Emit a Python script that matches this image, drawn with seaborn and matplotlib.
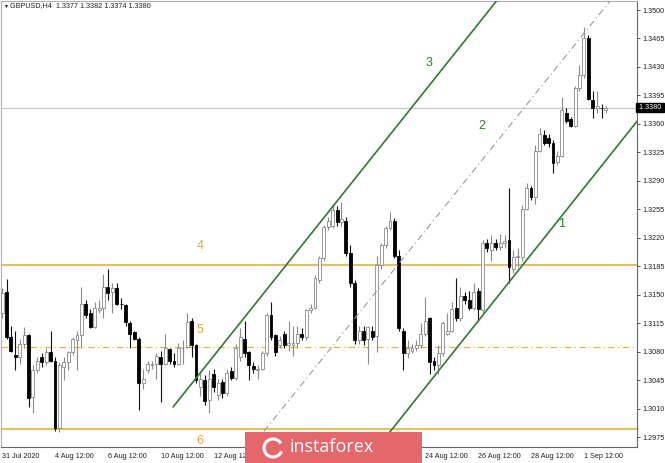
import numpy as np
import pandas as pd
import matplotlib
matplotlib.use("Agg")
import matplotlib.pyplot as plt
import matplotlib.transforms as mtransforms
from matplotlib.patches import Rectangle, Arc
import seaborn as sns

# ---------------- data (GBPUSD H4) ----------------
opens = [1.3127, 1.3153, 1.3098, 1.3076, 1.3073, 1.3090, 1.3100, 1.3024, 1.3057, 1.3073,
         1.3067, 1.3079, 1.3069, 1.2986, 1.3061, 1.3067, 1.3079, 1.3094, 1.3100, 1.3139,
         1.3127, 1.3110, 1.3131, 1.3134, 1.3160, 1.3153, 1.3158, 1.3139, 1.3137, 1.3115,
         1.3104, 1.3096, 1.3041, 1.3057, 1.3063, 1.3065, 1.3074, 1.3065, 1.3083, 1.3068,
         1.3065, 1.3084, 1.3086, 1.3118, 1.3088, 1.3036, 1.3045, 1.3020, 1.3053, 1.3027,
         1.3043, 1.3029, 1.3056, 1.3048, 1.3073, 1.3096, 1.3079, 1.3062, 1.3058, 1.3059,
         1.3078, 1.3125, 1.3100, 1.3088, 1.3102, 1.3088, 1.3088, 1.3091, 1.3102, 1.3098,
         1.3131, 1.3134, 1.3168, 1.3195, 1.3233, 1.3235, 1.3254, 1.3239, 1.3241, 1.3201,
         1.3164, 1.3094, 1.3106, 1.3096, 1.3106, 1.3099, 1.3186, 1.3211, 1.3232, 1.3241,
         1.3198, 1.3106, 1.3078, 1.3081, 1.3085, 1.3088, 1.3102, 1.3121, 1.3069, 1.3063,
         1.3078, 1.3102, 1.3106, 1.3134, 1.3121, 1.3149, 1.3143, 1.3134, 1.3155, 1.3131,
         1.3214, 1.3205, 1.3213, 1.3209, 1.3213, 1.3217, 1.3182, 1.3196, 1.3196, 1.3256,
         1.3281, 1.3270, 1.3327, 1.3346, 1.3343, 1.3336, 1.3313, 1.3321, 1.3374, 1.3366,
         1.3358, 1.3404, 1.3420, 1.3466, 1.3390, 1.3380, 1.3380, 1.3377]
highs = [1.3158, 1.3169, 1.3112, 1.3106, 1.3096, 1.3110, 1.3102, 1.3063, 1.3073, 1.3078,
         1.3085, 1.3106, 1.3073, 1.3067, 1.3073, 1.3081, 1.3098, 1.3106, 1.3159, 1.3143,
         1.3133, 1.3141, 1.3143, 1.3176, 1.3182, 1.3164, 1.3164, 1.3146, 1.3139, 1.3118,
         1.3106, 1.3098, 1.3059, 1.3069, 1.3069, 1.3078, 1.3081, 1.3102, 1.3085, 1.3078,
         1.3091, 1.3094, 1.3128, 1.3121, 1.3090, 1.3054, 1.3051, 1.3057, 1.3059, 1.3047,
         1.3047, 1.3059, 1.3061, 1.3090, 1.3109, 1.3118, 1.3081, 1.3067, 1.3064, 1.3081,
         1.3128, 1.3141, 1.3102, 1.3099, 1.3106, 1.3118, 1.3112, 1.3112, 1.3109, 1.3133,
         1.3139, 1.3174, 1.3198, 1.3236, 1.3245, 1.3262, 1.3259, 1.3264, 1.3245, 1.3211,
         1.3168, 1.3111, 1.3111, 1.3112, 1.3111, 1.3198, 1.3214, 1.3234, 1.3252, 1.3244,
         1.3205, 1.3109, 1.3094, 1.3090, 1.3094, 1.3115, 1.3147, 1.3123, 1.3073, 1.3088,
         1.3118, 1.3128, 1.3141, 1.3170, 1.3159, 1.3153, 1.3155, 1.3164, 1.3158, 1.3217,
         1.3219, 1.3223, 1.3219, 1.3225, 1.3223, 1.3281, 1.3205, 1.3207, 1.3260, 1.3287,
         1.3284, 1.3334, 1.3355, 1.3352, 1.3348, 1.3340, 1.3327, 1.3393, 1.3379, 1.3369,
         1.3407, 1.3432, 1.3479, 1.3469, 1.3401, 1.3400, 1.3384, 1.3382]
lows = [1.3122, 1.3096, 1.3079, 1.3057, 1.3065, 1.3085, 1.3012, 1.3004, 1.3054, 1.3061,
        1.3063, 1.3067, 1.2982, 1.2981, 1.3045, 1.3057, 1.3076, 1.3057, 1.3085, 1.3121,
        1.3109, 1.3109, 1.3127, 1.3122, 1.3143, 1.3127, 1.3137, 1.3133, 1.3112, 1.3085,
        1.3094, 1.3008, 1.3034, 1.3054, 1.3059, 1.3047, 1.3018, 1.3063, 1.3065, 1.3061,
        1.3063, 1.3065, 1.3085, 1.3073, 1.3042, 1.3026, 1.3014, 1.3004, 1.3030, 1.3020,
        1.3023, 1.3025, 1.3045, 1.3045, 1.3069, 1.3074, 1.3045, 1.3054, 1.3047, 1.3057,
        1.3075, 1.3094, 1.3075, 1.3084, 1.3084, 1.3081, 1.3075, 1.3085, 1.3094, 1.3094,
        1.3127, 1.3132, 1.3165, 1.3192, 1.3229, 1.3232, 1.3235, 1.3235, 1.3197, 1.3160,
        1.3090, 1.3090, 1.3088, 1.3065, 1.3094, 1.3079, 1.3182, 1.3207, 1.3229, 1.3195,
        1.3106, 1.3057, 1.3072, 1.3078, 1.3081, 1.3084, 1.3099, 1.3053, 1.3057, 1.3053,
        1.3075, 1.3100, 1.3104, 1.3118, 1.3118, 1.3139, 1.3131, 1.3131, 1.3118, 1.3128,
        1.3202, 1.3192, 1.3205, 1.3205, 1.3208, 1.3165, 1.3177, 1.3184, 1.3192, 1.3254,
        1.3266, 1.3262, 1.3325, 1.3334, 1.3331, 1.3300, 1.3309, 1.3319, 1.3361, 1.3356,
        1.3356, 1.3401, 1.3417, 1.3389, 1.3367, 1.3374, 1.3367, 1.3374]
closes = [1.3152, 1.3098, 1.3081, 1.3073, 1.3090, 1.3101, 1.3023, 1.3057, 1.3069, 1.3067,
          1.3079, 1.3069, 1.2986, 1.3063, 1.3067, 1.3079, 1.3095, 1.3100, 1.3139, 1.3125,
          1.3110, 1.3134, 1.3134, 1.3159, 1.3152, 1.3158, 1.3139, 1.3138, 1.3116, 1.3102,
          1.3096, 1.3041, 1.3047, 1.3065, 1.3065, 1.3075, 1.3065, 1.3084, 1.3069, 1.3065,
          1.3085, 1.3085, 1.3116, 1.3088, 1.3045, 1.3047, 1.3019, 1.3047, 1.3036, 1.3042,
          1.3029, 1.3054, 1.3048, 1.3085, 1.3098, 1.3078, 1.3063, 1.3059, 1.3059, 1.3078,
          1.3125, 1.3098, 1.3079, 1.3094, 1.3088, 1.3091, 1.3091, 1.3102, 1.3098, 1.3131,
          1.3134, 1.3170, 1.3195, 1.3233, 1.3241, 1.3254, 1.3239, 1.3243, 1.3201, 1.3164,
          1.3094, 1.3106, 1.3094, 1.3110, 1.3098, 1.3186, 1.3211, 1.3232, 1.3241, 1.3198,
          1.3109, 1.3078, 1.3085, 1.3084, 1.3088, 1.3102, 1.3118, 1.3067, 1.3063, 1.3078,
          1.3115, 1.3106, 1.3133, 1.3121, 1.3149, 1.3143, 1.3134, 1.3153, 1.3133, 1.3213,
          1.3208, 1.3213, 1.3209, 1.3213, 1.3216, 1.3184, 1.3196, 1.3197, 1.3256, 1.3281,
          1.3270, 1.3327, 1.3348, 1.3337, 1.3336, 1.3312, 1.3321, 1.3377, 1.3364, 1.3358,
          1.3404, 1.3420, 1.3466, 1.3391, 1.3380, 1.3382, 1.3379, 1.3380]

# tick labels (14, 18 and 20 Aug are hidden under the watermark in the reference)
x_tick_pos = [0, 12, 24, 36, 48, 60, 72, 84, 96, 108, 120, 132]
x_tick_labels = ["31 Jul 2020", "4 Aug 12:00", "6 Aug 12:00", "10 Aug 12:00", "12 Aug 12:00",
                 "", "", "", "24 Aug 12:00",
                 "26 Aug 12:00", "28 Aug 12:00", "1 Sep 12:00"]
y_ticks = [1.2975, 1.3010, 1.3045, 1.3080, 1.3115, 1.3150, 1.3185, 1.3220,
           1.3255, 1.3290, 1.3325, 1.3360, 1.3395, 1.3430, 1.3465, 1.3500]

level_prices = [1.3186, 1.3086, 1.2985]       # lines 4, 5, 6
level_names = ["4", "5", "6"]
current_price = 1.3380

channel_upper = [(38.8, 1.3012), (112.3, 1.3512)]   # line 3
channel_mid = [(59.4, 1.2982), (138.2, 1.3513)]     # line 2
channel_lower = [(87.8, 1.2980), (144.6, 1.3367)]   # line 1

# ---------------- styling ----------------
sns.set_theme(style="white")
plt.rcParams["font.family"] = ["Liberation Sans", "DejaVu Sans"]

df = pd.DataFrame({"open": opens, "high": highs, "low": lows, "close": closes})
df["idx"] = np.arange(len(df))
df["bull"] = df["close"] >= df["open"]

W, H = 665, 463
fig = plt.figure(figsize=(W / 100, H / 100), dpi=100)
fig.patch.set_facecolor("white")
ax = fig.add_axes([1 / W, 16 / H, 636 / W, 446 / H])
ax.set_facecolor("white")

# wicks
wick_col = np.where(df["bull"], "#8a8a8a", "#111111")
ax.vlines(df["idx"], df["low"], df["high"], colors=list(wick_col), linewidth=0.8, zorder=3)
# bodies
body_h = (df["close"] - df["open"]).abs().clip(lower=0.00003)
body_b = df[["open", "close"]].min(axis=1)
face = np.where(df["bull"], "white", "black")
edge = np.where(df["bull"], "#8a8a8a", "black")
ax.bar(df["idx"], body_h, bottom=body_b, width=0.66, color=list(face),
       edgecolor=list(edge), linewidth=0.6, zorder=4)

# horizontal levels
gold = "#E2B33E"
ax.axhline(level_prices[0], color=gold, lw=1.2, zorder=2)
ax.axhline(level_prices[1], color=gold, lw=0.8, ls=(0, (6, 3, 1, 3)), zorder=2)
ax.axhline(level_prices[2], color=gold, lw=1.2, zorder=2)
ax.axhline(current_price, color="#c8c8c8", lw=0.8, zorder=1)

# channel
green = "#2f7a2f"
for pts, kw in [(channel_upper, dict(color=green, lw=1.2)),
                (channel_lower, dict(color=green, lw=1.2)),
                (channel_mid, dict(color="#9a9a9a", lw=0.8, ls=(0, (6, 3, 1, 3))))]:
    xs, ys = zip(*pts)
    ax.plot(xs, ys, zorder=5, **kw)

# labels
lab_fs = 9
ax.text(96.8, 1.3435, "3", color=green, fontsize=lab_fs, ha="center", va="center")
ax.text(108.9, 1.3357, "2", color=green, fontsize=lab_fs, ha="center", va="center")
ax.text(127.0, 1.3237, "1", color=green, fontsize=lab_fs, ha="center", va="center")
orange = "#E8A33C"
ax.text(44.9, 1.3210, level_names[0], color=orange, fontsize=lab_fs, ha="center", va="center")
ax.text(44.9, 1.3107, level_names[1], color=orange, fontsize=lab_fs, ha="center", va="center")
ax.text(44.9, 1.2970, level_names[2], color=orange, fontsize=lab_fs, ha="center", va="center")

# axes limits / ticks
ax.set_xlim(-0.25, 144.05)
ax.set_ylim(1.29628, 1.35111)
ax.yaxis.tick_right()
ax.set_yticks(y_ticks)
ax.set_yticklabels([f"{v:.4f}" for v in y_ticks])
ax.set_xticks(x_tick_pos)
ax.set_xticklabels(x_tick_labels, ha="left")
ax.tick_params(axis="both", which="both", labelsize=5.2, colors="#333333",
               length=2.5, width=0.6, direction="out", pad=1.5)
ax.tick_params(axis="x", pad=2)
for lbl in ax.get_xticklabels() + ax.get_yticklabels():
    lbl.set_color("#222222")
for side in ["left", "top"]:
    ax.spines[side].set_color("#b0b0b0")
    ax.spines[side].set_linewidth(0.8)
for side in ["right", "bottom"]:
    ax.spines[side].set_color("#666666")
    ax.spines[side].set_linewidth(0.8)
ax.grid(False)

# current price box
trans = mtransforms.blended_transform_factory(ax.transAxes, ax.transData)
ax.text(1.0, current_price, " 1.3380 ", transform=trans, ha="left", va="center",
        fontsize=5.2, color="white", zorder=10, clip_on=False,
        bbox=dict(boxstyle="square,pad=0.15", fc="black", ec="black"))

# title
fig.text(3 / W, 1 - 6 / H, "\u25BC", fontsize=3.5, color="black", va="center", ha="left")
fig.text(10 / W, 1 - 6 / H, "GBPUSD,H4  1.3377 1.3382 1.3374 1.3380", fontsize=5.2,
         color="#222222", va="center", ha="left")

# watermark
fig.patches.append(Rectangle((245 / W, 0), 177 / W, 31 / H, transform=fig.transFigure,
                             facecolor="#E4686B", edgecolor="none", zorder=20))
fig.patches.append(Arc((273 / W, 1 - 448 / H), 18 / W, 18 / H, theta1=40, theta2=330,
                       transform=fig.transFigure, color="white", lw=2.2, zorder=21))
fig.text(290 / W, 1 - 447 / H, "instaforex", fontsize=13, color="white",
         family=["Open Sans", "DejaVu Sans"], va="center", ha="left", zorder=22)

fig.savefig("out.png", dpi=100, facecolor="white")
